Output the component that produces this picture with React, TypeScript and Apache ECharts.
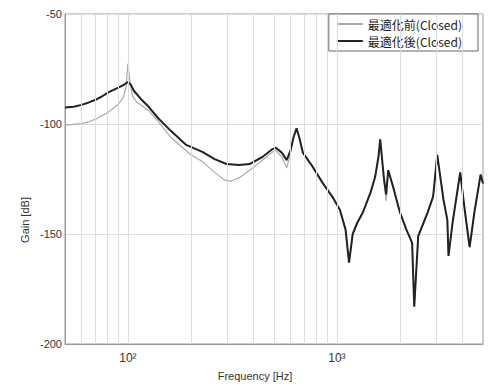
import React, { useEffect, useRef } from "react";
import * as echarts from "echarts";

// Low-frequency part differs between the two curves
const lowFreqBefore = [50, 60, 65, 70, 81, 90, 95, 98, 100, 102, 105, 110, 126, 140, 160, 200, 227, 260, 290, 310, 340, 382, 440, 492, 510, 545, 575, 600, 620];
const lowGainBefore = [-100.5, -99.8, -99, -97.8, -94.5, -91, -88, -83, -72.5, -80, -87, -90, -94, -99, -106, -114, -117, -122, -125.5, -126, -124.5, -121, -116.5, -112.7, -112, -115, -120, -113, -106];

const lowFreqAfter = [50, 55, 60, 65, 70, 75, 81, 90, 95, 100, 103, 107, 115, 126, 140, 160, 190, 227, 260, 296, 340, 382, 440, 492, 510, 545, 575, 600, 620];
const lowGainAfter = [-92.5, -92.2, -91.3, -90.2, -89, -87.5, -85.5, -83.5, -82.3, -80.9, -82, -85, -88.5, -92.3, -97.5, -103, -109.5, -112.7, -116, -118.2, -118.6, -118.2, -115, -111.4, -110.8, -113, -116.4, -112, -106];

// High-frequency part (both curves nearly coincide)
const highFreq = [641, 660, 687, 760, 857, 950, 1033, 1100, 1143, 1190, 1250, 1334, 1450, 1524, 1580, 1611, 1680, 1720, 1760, 1850, 2000, 2150, 2290, 2344, 2449, 2710, 2886, 3020, 3236, 3375, 3420, 3574, 3890, 4100, 4315, 4550, 4870, 5000];
const highGainBefore = [-102, -106, -113, -119, -127, -133, -139, -148, -163, -150, -145, -140, -131, -124, -115, -107, -126, -135, -121, -128, -140, -148, -154, -183, -151, -140.5, -133, -114, -134.5, -143.6, -160, -145, -122, -140, -156, -140, -123, -127];
const highGainAfter = [-102, -106, -113, -119, -127, -133, -139, -148, -163, -150, -145, -140, -131, -124, -115, -107, -125, -132, -121, -128, -140, -148, -154, -183, -151, -140.5, -133, -114, -134.5, -143.6, -160, -145, -122, -140, -156, -140, -123, -127];

const gridFreqs = [60, 70, 80, 90, 100, 200, 300, 400, 500, 600, 700, 800, 900, 1000, 2000, 3000, 4000];

const seriesNames = ["最適化前(Closed)", "最適化後(Closed)"];

function pairs(f: number[], g: number[]) {
  return f.map((v, i) => [v, g[i]]);
}

export default function App() {
  const ref = useRef<HTMLDivElement>(null);
  useEffect(() => {
    if (!ref.current) return;
    const chart = echarts.init(ref.current, null, { renderer: "svg" });
    const before = pairs(lowFreqBefore, lowGainBefore).concat(pairs(highFreq, highGainBefore));
    const after = pairs(lowFreqAfter, lowGainAfter).concat(pairs(highFreq, highGainAfter));
    chart.setOption({
      animation: false,
      backgroundColor: "#fff",
      textStyle: { fontFamily: "Liberation Sans, Arial, sans-serif" },
      grid: { left: 65, top: 14, width: 418, height: 330, show: true, borderColor: "#999", borderWidth: 1 },
      legend: {
        data: seriesNames,
        orient: "vertical",
        right: 12,
        top: 14,
        icon: "rect",
        backgroundColor: "#fff",
        borderColor: "#666",
        borderWidth: 1,
        borderRadius: 0,
        padding: [4, 16, 4, 8],
        itemGap: 5,
        itemWidth: 26,
        itemHeight: 2,
        textStyle: { fontSize: 12, color: "#222", fontFamily: "Noto Sans CJK JP" },
      },
      xAxis: {
        type: "log",
        logBase: 10,
        min: 50,
        max: 5000,
        axisLine: { show: true, lineStyle: { color: "#999" } },
        axisTick: { show: false },
        splitLine: { show: false },
        axisLabel: {
          color: "#333",
          fontSize: 12,
          margin: 8,
          showMinLabel: false,
          showMaxLabel: false,
          formatter: (v: number) => {
            const r = Math.round(v);
            if (r === 100) return "10²";
            if (r === 1000) return "10³";
            return "";
          },
        },
      },
      yAxis: {
        type: "value",
        min: -200,
        max: -50,
        interval: 50,
        axisLine: { show: true, lineStyle: { color: "#999" } },
        axisTick: { show: false },
        splitLine: { show: true, lineStyle: { color: "#ddd", width: 1 } },
        axisLabel: { color: "#333", fontSize: 11, margin: 3 },
      },
      graphic: [
        {
          type: "text",
          x: 25,
          y: 220,
          rotation: Math.PI / 2,
          style: { text: "Gain [dB]", fontSize: 11, fill: "#333", align: "center", verticalAlign: "middle", fontFamily: "Liberation Sans, Arial, sans-serif" },
        },
        {
          type: "text",
          x: 255,
          y: 376,
          style: { text: "Frequency [Hz]", fontSize: 11, fill: "#333", align: "center", verticalAlign: "middle", fontFamily: "Liberation Sans, Arial, sans-serif" },
        },
      ],
      series: [
        {
          name: "grid",
          type: "line",
          data: [],
          silent: true,
          markLine: {
            silent: true,
            symbol: "none",
            label: { show: false },
            lineStyle: { color: "#ddd", width: 1, type: "solid" },
            data: gridFreqs.map((f) => ({ xAxis: f })),
          },
        },
        {
          name: seriesNames[0],
          type: "line",
          data: before,
          showSymbol: false,
          symbol: "none",
          lineStyle: { color: "#aaa", width: 1.2 },
          itemStyle: { color: "#aaa" },
          z: 3,
        },
        {
          name: seriesNames[1],
          type: "line",
          data: after,
          showSymbol: false,
          symbol: "none",
          lineStyle: { color: "#222", width: 2 },
          itemStyle: { color: "#222" },
          z: 4,
        },
      ],
    });
    return () => chart.dispose();
  }, []);
  return <div ref={ref} style={{ position: "fixed", left: 0, top: 0, width: 490, height: 387 }} />;
}
